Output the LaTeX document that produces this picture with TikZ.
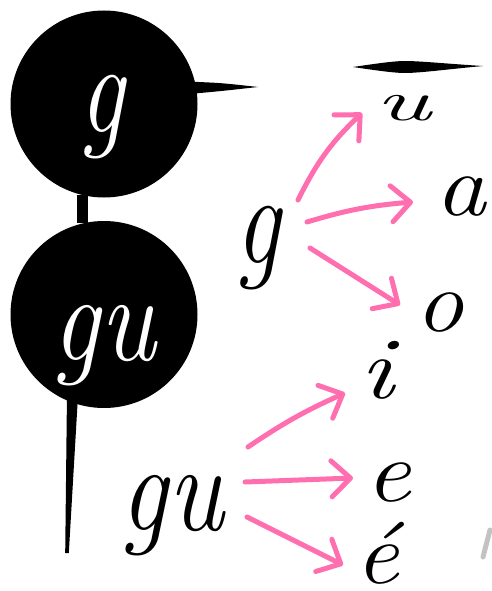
\documentclass[tikz,border=0pt]{standalone}
\usepackage{fontspec}
\usetikzlibrary{arrows.meta,calc}
\definecolor{pinkarrow}{RGB}{255,110,175}
\definecolor{faint}{RGB}{195,195,195}
\begin{document}
\begin{tikzpicture}[x=1pt,y=-1pt,
  letter/.style={inner sep=0pt,font=\fontsize{88}{90}\selectfont\itshape},
  bigletter/.style={inner sep=0pt,font=\fontsize{100}{100}\selectfont\itshape},
  disc/.style={circle,fill=black,minimum size=187pt,inner sep=0pt},
  parrow/.style={draw=pinkarrow,line width=5pt,line cap=round,
    -{Straight Barb[length=19pt,width=36pt,round]}},
  stem/.style={line width=11pt}]
\useasboundingbox (0,0) rectangle (491,591);
% discs
\node[disc] (c1) at (104,104) {};
\node[disc] (c2) at (104,314.5) {};
\node[bigletter,text=white] (wg) at (102,117) {\scalebox{1}[1.3]{g}};
\node[bigletter,text=white] (wgu) at (104,346) {\scalebox{1.05}[1.25]{gu}};
% strokes attached to the discs
\draw[stem] (c1.257) -- (c2.103);
\coordinate (stroketip) at (258,87);
\fill ($(c1.10)+(-4,-6)$) .. controls (222,83) .. (stroketip)
      .. controls (222,91) .. ($(c1.10)+(-4,6)$) -- cycle;
\coordinate (tail) at (67,553);
\fill ($(c2.250)+(-5,-6)$) -- ($(c2.250)+(6,-6)$) -- ($(tail)+(1.8,0)$)
      -- ($(tail)+(-1.8,0)$) -- cycle;
% letters
\node[bigletter] (g) at (258,248) {\scalebox{1}[1.3]{g}};
\node[bigletter] (gu) at (172,516) {\scalebox{1.05}[1.25]{gu}};
\node[letter] (u) at (403,108) {\scalebox{1.2}[0.65]{u}};
\node[letter] (a) at (461,197) {\scalebox{1.15}[1]{a}};
\node[letter] (o) at (440,313) {\scalebox{1.1}[1]{o}};
\node[letter] (i) at (377,370) {\scalebox{1.3}[1]{i}};
\node[letter] (e) at (388,483) {\scalebox{1.15}[1]{e}};
\node[letter] (eacute) at (377,553) {\scalebox{1.1}[1]{é}};
% bar over u
\fill (353,67) .. controls (380,63) and (395,61) .. (405,61)
      .. controls (420,61) and (450,64) .. (483,66)
      .. controls (450,69) and (420,73) .. (405,73)
      .. controls (395,73) and (380,71) .. (353,67) -- cycle;
% arrows
\draw[parrow] ($(g)+(40,-48)$) to[bend left=10] ($(u)+(-41,5)$);
\draw[parrow] ($(g)+(49,-26)$) to[bend left=6] ($(a)+(-48,5)$);
\draw[parrow] ($(g)+(52,0)$) -- ($(o)+(-40,-8)$);
\draw[parrow] ($(gu)+(76,-69)$) to[bend left=5] ($(i)+(-32,23)$);
\draw[parrow] ($(gu)+(73,-34)$) -- ($(e)+(-35,-5)$);
\draw[parrow] ($(gu)+(75,1)$) -- ($(eacute)+(-34,12)$);
% faint clipped mark at the right edge
\draw[faint,line width=5pt,line cap=round] (483,557) -- (490,530);
\end{tikzpicture}
\end{document}
